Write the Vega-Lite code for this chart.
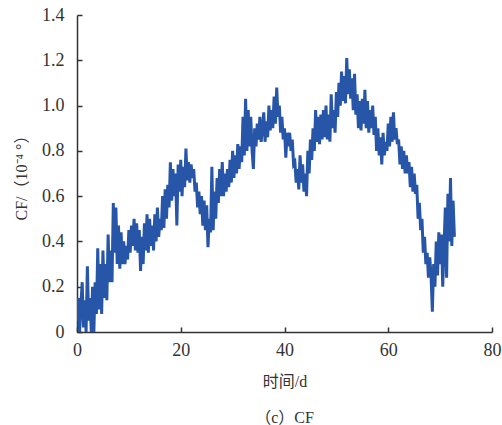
{
"$schema": "https://vega.github.io/schema/vega-lite/v6.json",
"autosize": "none",
"width": 415,
"height": 317,
"padding": {"left": 77, "top": 15, "right": 10, "bottom": 93},
"background": "white",
"config": {"view": {"stroke": null}, "axis": {"grid": false, "domainColor": "#333", "tickColor": "#333", "labelColor": "#333", "titleColor": "#333", "labelFont": "'Liberation Serif', serif", "labelFontSize": 18, "titleFont": "'Liberation Serif', 'Noto Sans CJK SC', serif", "titleFontSize": 16, "titleFontWeight": "normal", "domainWidth": 1.5, "tickWidth": 1.5}},
"title": {"text": "（c）CF", "orient": "bottom", "font": "'Liberation Serif', 'Noto Sans CJK SC', serif", "fontSize": 16, "fontWeight": "normal", "color": "#333", "anchor": "middle", "offset": 21},
"data": {"values": [
{"t":0,"v":0.05},{"t":0.25,"v":0.15},{"t":0.5,"v":0.0},{"t":0.75,"v":0.12},
{"t":1,"v":0.22},{"t":1.25,"v":0.02},{"t":1.5,"v":0.14},{"t":1.75,"v":0.0},
{"t":2,"v":0.29},{"t":2.25,"v":0.05},{"t":2.5,"v":0.15},{"t":2.75,"v":0.0},
{"t":3,"v":0.2},{"t":3.25,"v":0.0},{"t":3.5,"v":0.22},{"t":3.75,"v":0.08},
{"t":4,"v":0.37},{"t":4.25,"v":0.1},{"t":4.5,"v":0.3},{"t":4.75,"v":0.08},
{"t":5,"v":0.36},{"t":5.25,"v":0.15},{"t":5.5,"v":0.3},{"t":5.75,"v":0.14},
{"t":6,"v":0.43},{"t":6.25,"v":0.22},{"t":6.5,"v":0.36},{"t":6.75,"v":0.22},
{"t":7,"v":0.57},{"t":7.25,"v":0.35},{"t":7.5,"v":0.55},{"t":7.75,"v":0.3},
{"t":8,"v":0.47},{"t":8.25,"v":0.28},{"t":8.5,"v":0.44},{"t":8.75,"v":0.3},
{"t":9,"v":0.4},{"t":9.25,"v":0.3},{"t":9.5,"v":0.38},{"t":9.75,"v":0.32},
{"t":10,"v":0.45},{"t":10.25,"v":0.35},{"t":10.5,"v":0.47},{"t":10.75,"v":0.38},
{"t":11,"v":0.5},{"t":11.25,"v":0.36},{"t":11.5,"v":0.48},{"t":11.75,"v":0.35},
{"t":12,"v":0.45},{"t":12.25,"v":0.27},{"t":12.5,"v":0.42},{"t":12.75,"v":0.3},
{"t":13,"v":0.48},{"t":13.25,"v":0.36},{"t":13.5,"v":0.52},{"t":13.75,"v":0.35},
{"t":14,"v":0.5},{"t":14.25,"v":0.38},{"t":14.5,"v":0.47},{"t":14.75,"v":0.36},
{"t":15,"v":0.52},{"t":15.25,"v":0.4},{"t":15.5,"v":0.55},{"t":15.75,"v":0.42},
{"t":16,"v":0.5},{"t":16.25,"v":0.45},{"t":16.5,"v":0.6},{"t":16.75,"v":0.46},
{"t":17,"v":0.63},{"t":17.25,"v":0.5},{"t":17.5,"v":0.65},{"t":17.75,"v":0.55},
{"t":18,"v":0.75},{"t":18.25,"v":0.58},{"t":18.5,"v":0.72},{"t":18.75,"v":0.6},
{"t":19,"v":0.7},{"t":19.25,"v":0.47},{"t":19.5,"v":0.74},{"t":19.75,"v":0.62},
{"t":20,"v":0.76},{"t":20.25,"v":0.6},{"t":20.5,"v":0.73},{"t":20.75,"v":0.64},
{"t":21,"v":0.81},{"t":21.25,"v":0.67},{"t":21.5,"v":0.75},{"t":21.75,"v":0.66},
{"t":22,"v":0.74},{"t":22.25,"v":0.68},{"t":22.5,"v":0.72},{"t":22.75,"v":0.62},
{"t":23,"v":0.66},{"t":23.25,"v":0.55},{"t":23.5,"v":0.62},{"t":23.75,"v":0.52},
{"t":24,"v":0.6},{"t":24.25,"v":0.47},{"t":24.5,"v":0.58},{"t":24.75,"v":0.45},
{"t":25,"v":0.56},{"t":25.25,"v":0.375},{"t":25.5,"v":0.5},{"t":25.75,"v":0.44},
{"t":26,"v":0.73},{"t":26.25,"v":0.45},{"t":26.5,"v":0.62},{"t":26.75,"v":0.5},
{"t":27,"v":0.68},{"t":27.25,"v":0.57},{"t":27.5,"v":0.72},{"t":27.75,"v":0.6},
{"t":28,"v":0.75},{"t":28.25,"v":0.6},{"t":28.5,"v":0.7},{"t":28.75,"v":0.62},
{"t":29,"v":0.72},{"t":29.25,"v":0.64},{"t":29.5,"v":0.76},{"t":29.75,"v":0.66},
{"t":30,"v":0.8},{"t":30.25,"v":0.68},{"t":30.5,"v":0.78},{"t":30.75,"v":0.7},
{"t":31,"v":0.83},{"t":31.25,"v":0.72},{"t":31.5,"v":0.82},{"t":31.75,"v":0.75},
{"t":32,"v":0.95},{"t":32.25,"v":0.78},{"t":32.5,"v":1.03},{"t":32.75,"v":0.8},
{"t":33,"v":0.98},{"t":33.25,"v":0.82},{"t":33.5,"v":0.95},{"t":33.75,"v":0.8},
{"t":34,"v":0.72},{"t":34.25,"v":0.9},{"t":34.5,"v":0.82},{"t":34.75,"v":0.92},
{"t":35,"v":0.85},{"t":35.25,"v":0.95},{"t":35.5,"v":0.84},{"t":35.75,"v":0.9},
{"t":36,"v":0.97},{"t":36.25,"v":0.84},{"t":36.5,"v":0.93},{"t":36.75,"v":0.86},
{"t":37,"v":1.0},{"t":37.25,"v":0.89},{"t":37.5,"v":0.98},{"t":37.75,"v":0.9},
{"t":38,"v":1.04},{"t":38.25,"v":0.92},{"t":38.5,"v":1.08},{"t":38.75,"v":0.95},
{"t":39,"v":1.0},{"t":39.25,"v":0.88},{"t":39.5,"v":0.95},{"t":39.75,"v":0.85},
{"t":40,"v":0.9},{"t":40.25,"v":0.77},{"t":40.5,"v":0.88},{"t":40.75,"v":0.82},
{"t":41,"v":0.88},{"t":41.25,"v":0.8},{"t":41.5,"v":0.85},{"t":41.75,"v":0.74},
{"t":42,"v":0.75},{"t":42.25,"v":0.66},{"t":42.5,"v":0.72},{"t":42.75,"v":0.63},
{"t":43,"v":0.78},{"t":43.25,"v":0.66},{"t":43.5,"v":0.74},{"t":43.75,"v":0.62},
{"t":44,"v":0.7},{"t":44.25,"v":0.6},{"t":44.5,"v":0.8},{"t":44.75,"v":0.7},
{"t":45,"v":0.85},{"t":45.25,"v":0.76},{"t":45.5,"v":0.9},{"t":45.75,"v":0.8},
{"t":46,"v":0.98},{"t":46.25,"v":0.84},{"t":46.5,"v":0.95},{"t":46.75,"v":0.83},
{"t":47,"v":0.96},{"t":47.25,"v":0.85},{"t":47.5,"v":0.98},{"t":47.75,"v":0.86},
{"t":48,"v":1.0},{"t":48.25,"v":0.85},{"t":48.5,"v":0.96},{"t":48.75,"v":0.84},
{"t":49,"v":1.05},{"t":49.25,"v":0.9},{"t":49.5,"v":0.98},{"t":49.75,"v":0.88},
{"t":50,"v":1.06},{"t":50.25,"v":0.95},{"t":50.5,"v":1.1},{"t":50.75,"v":1.0},
{"t":51,"v":1.15},{"t":51.25,"v":1.02},{"t":51.5,"v":1.13},{"t":51.75,"v":1.01},
{"t":52,"v":1.21},{"t":52.25,"v":1.05},{"t":52.5,"v":1.16},{"t":52.75,"v":1.03},
{"t":53,"v":1.12},{"t":53.25,"v":0.98},{"t":53.5,"v":1.14},{"t":53.75,"v":0.96},
{"t":54,"v":1.05},{"t":54.25,"v":0.9},{"t":54.5,"v":1.02},{"t":54.75,"v":0.89},
{"t":55,"v":1.03},{"t":55.25,"v":0.92},{"t":55.5,"v":1.07},{"t":55.75,"v":0.9},
{"t":56,"v":1.02},{"t":56.25,"v":0.88},{"t":56.5,"v":0.98},{"t":56.75,"v":0.9},
{"t":57,"v":1.0},{"t":57.25,"v":0.87},{"t":57.5,"v":0.95},{"t":57.75,"v":0.8},
{"t":58,"v":0.9},{"t":58.25,"v":0.78},{"t":58.5,"v":0.86},{"t":58.75,"v":0.74},
{"t":59,"v":0.88},{"t":59.25,"v":0.78},{"t":59.5,"v":0.84},{"t":59.75,"v":0.8},
{"t":60,"v":0.92},{"t":60.25,"v":0.82},{"t":60.5,"v":0.95},{"t":60.75,"v":0.84},
{"t":61,"v":0.97},{"t":61.25,"v":0.85},{"t":61.5,"v":0.9},{"t":61.75,"v":0.83},
{"t":62,"v":0.85},{"t":62.25,"v":0.74},{"t":62.5,"v":0.82},{"t":62.75,"v":0.72},
{"t":63,"v":0.8},{"t":63.25,"v":0.7},{"t":63.5,"v":0.78},{"t":63.75,"v":0.7},
{"t":64,"v":0.75},{"t":64.25,"v":0.64},{"t":64.5,"v":0.73},{"t":64.75,"v":0.62},
{"t":65,"v":0.7},{"t":65.25,"v":0.61},{"t":65.5,"v":0.65},{"t":65.75,"v":0.5},
{"t":66,"v":0.57},{"t":66.25,"v":0.45},{"t":66.5,"v":0.5},{"t":66.75,"v":0.35},
{"t":67,"v":0.42},{"t":67.25,"v":0.3},{"t":67.5,"v":0.35},{"t":67.75,"v":0.24},
{"t":68,"v":0.33},{"t":68.25,"v":0.25},{"t":68.5,"v":0.09},{"t":68.75,"v":0.3},
{"t":69,"v":0.2},{"t":69.25,"v":0.4},{"t":69.5,"v":0.25},{"t":69.75,"v":0.44},
{"t":70,"v":0.3},{"t":70.25,"v":0.43},{"t":70.5,"v":0.2},{"t":70.75,"v":0.38},
{"t":71,"v":0.55},{"t":71.25,"v":0.24},{"t":71.5,"v":0.61},{"t":71.75,"v":0.4},
{"t":72,"v":0.68},{"t":72.25,"v":0.38},{"t":72.5,"v":0.58},{"t":72.75,"v":0.42}
]},
"mark": {"type": "line", "color": "#2756a8", "strokeWidth": 3, "clip": true},
"encoding": {
"x": {"field": "t", "type": "quantitative", "scale": {"domain": [0, 80], "nice": false, "zero": false}, "axis": {"values": [0, 20, 40, 60, 80], "title": "时间/d", "tickSize": -5, "labelPadding": 14, "titlePadding": 14, "labelFlush": false}},
"y": {"field": "v", "type": "quantitative", "scale": {"domain": [0, 1.4], "nice": false}, "axis": {"values": [0, 0.2, 0.4, 0.6, 0.8, 1.0, 1.2, 1.4], "labelExpr": "datum.value == 0 ? '0' : format(datum.value, '.1f')", "title": "CF/（10⁻⁴ °）", "tickSize": -5, "labelPadding": 18, "titlePadding": 12}}
}
}
